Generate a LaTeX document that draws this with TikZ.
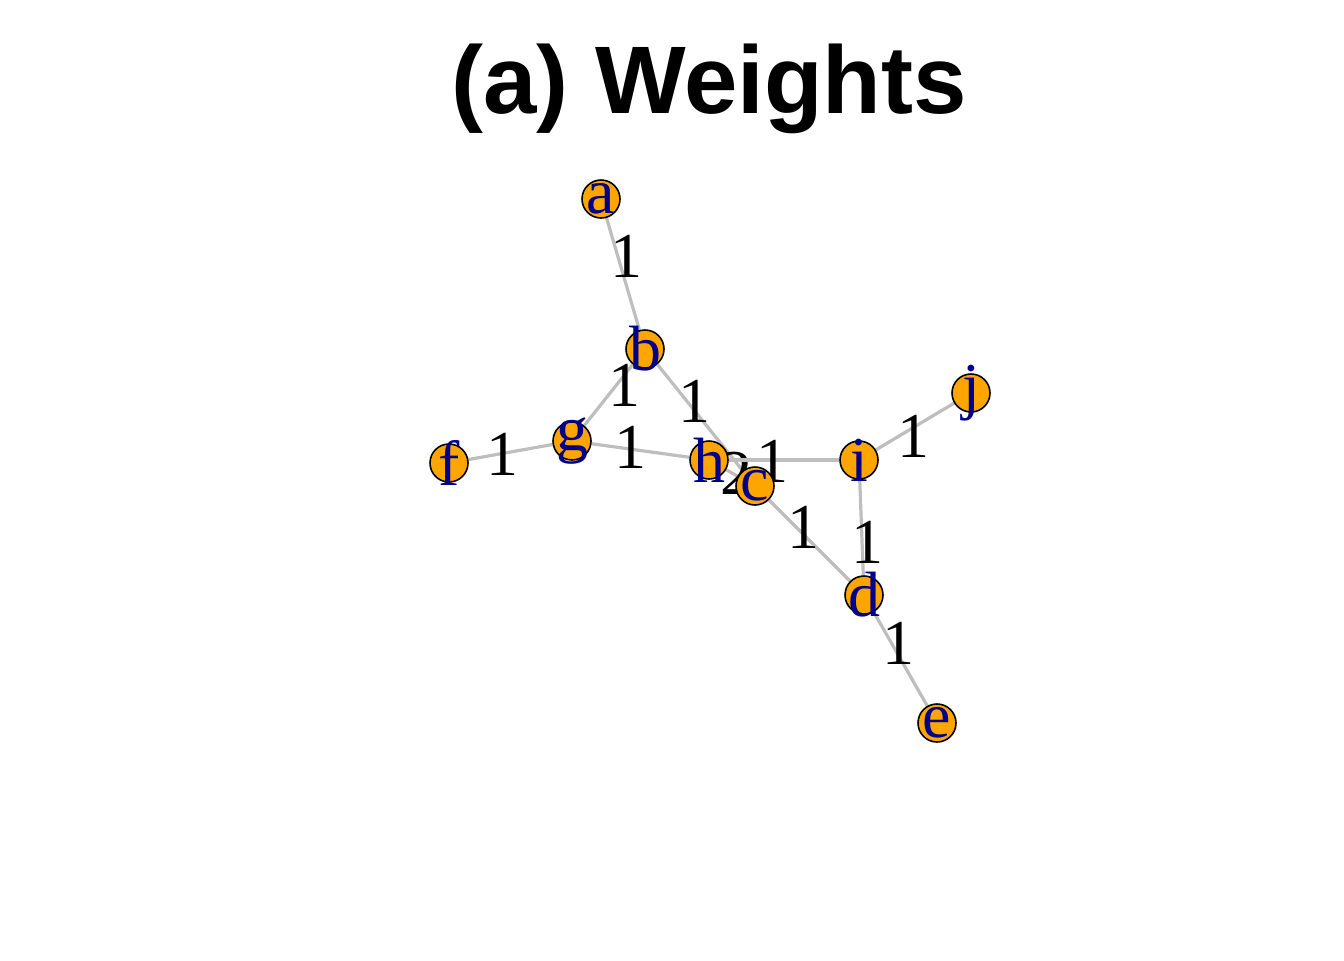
\documentclass[tikz,border=0pt]{standalone}
\usepackage{fontspec}
\setmainfont{Liberation Serif}
\newfontfamily\titlefont{Liberation Sans}
\usetikzlibrary{backgrounds}
\definecolor{vorange}{HTML}{FFA500}
\definecolor{vblue}{HTML}{00008B}
\definecolor{egray}{HTML}{BEBEBE}
\begin{document}
\begin{tikzpicture}[x=0.5pt,y=-0.5pt,main node/.style={circle,draw=black,line width=0.8pt,fill=vorange,minimum size=19pt,inner sep=0pt,label={[vblue,inner sep=0pt,font=\fontsize{32}{38}\selectfont]center:#1}}]
                    \useasboundingbox (0,0) rectangle (1344,960);
                    \node[font=\titlefont\bfseries\fontsize{48}{58}\selectfont,anchor=base] (title) at (709,113) {(a) Weights};

                    \node[main node=a] (a) at (601,199) {};
                    \node[main node=b] (b) at (645,349) {};
                    \node[main node=g] (g) at (572,441) {};
                    \node[main node=f] (f) at (449,463) {};
                    \node[main node=h] (h) at (709,460) {};
                    \node[main node=c] (c) at (755,486) {};
                    \node[main node=i] (i) at (859,460) {};
                    \node[main node=j] (j) at (971,393) {};
                    \node[main node=d] (d) at (864,595) {};
                    \node[main node=e] (e) at (937,723) {};

                    \begin{scope}[on background layer]
                    \path[every edge/.style={draw=egray,line width=1.6pt},every node/.style={inner sep=0pt,font=\fontsize{32}{38}\selectfont}]
                            (a) edge node[shift={(3,-18)}] {1} (b)

                            (b) edge node[shift={(16,-10)}] {1} (g)
                            (b) edge node[shift={(-6,-16)}] {1} (c)
                            (f) edge node[shift={(-8,2)}] {1} (g)
                            (g) edge node[shift={(-10,-3)}] {1} (h)

                            (h) edge node[shift={(4,0)}] {2} (c)
                            (h) edge node[shift={(-12,1)}] {1} (i)
                            (c) edge node[shift={(-6,-13)}] {1} (d)

                            (i) edge node[shift={(-2,10)}] {1} (j)
                            (i) edge node[shift={(6,15)}] {1} (d)
                            (d) edge node[shift={(-2,-16)}] {1} (e)
                        ;
                    \end{scope}
                \end{tikzpicture}
\end{document}
